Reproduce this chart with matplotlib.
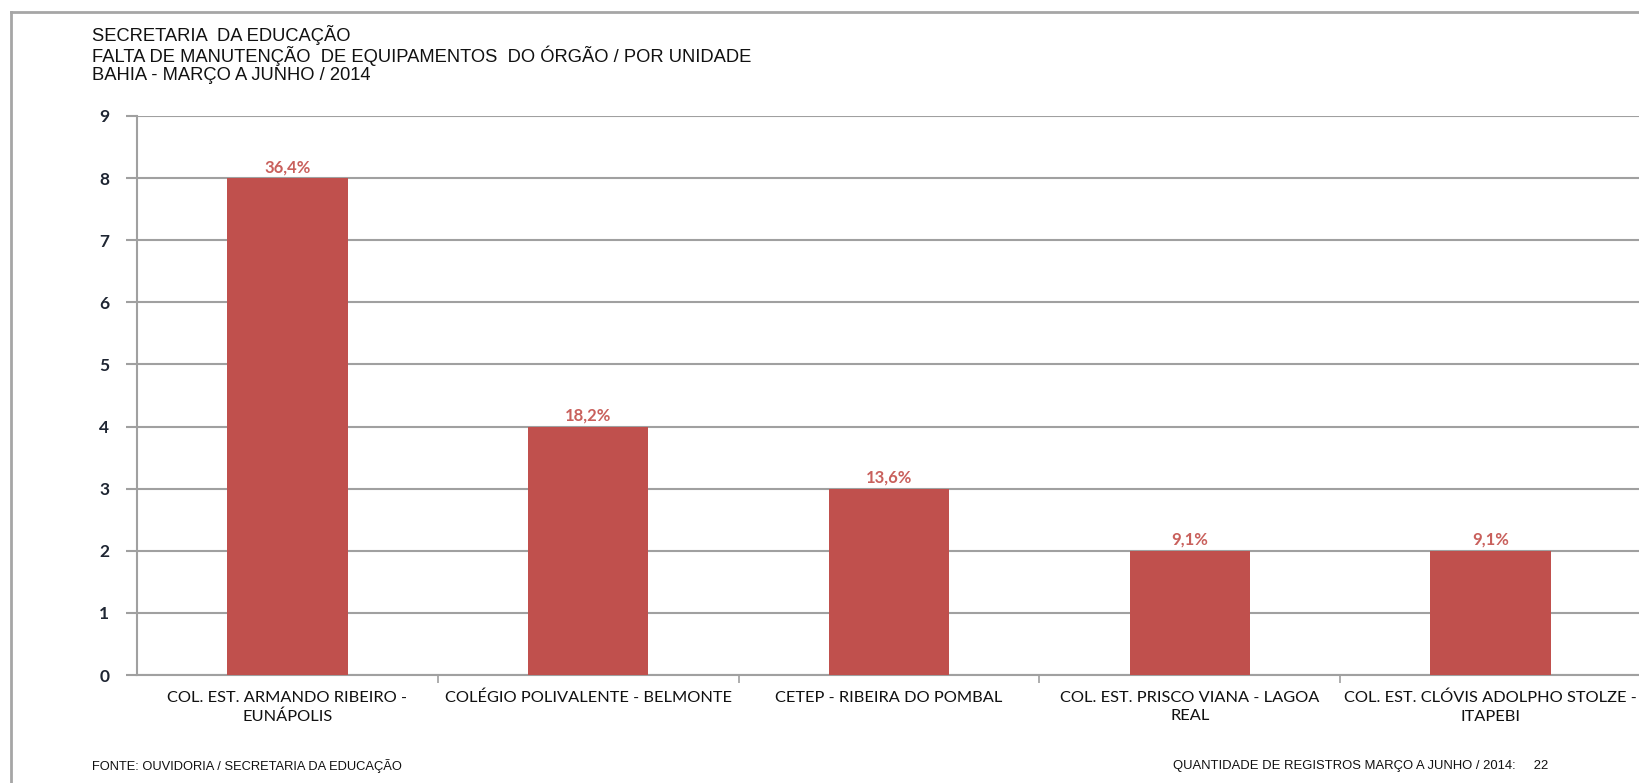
import matplotlib
matplotlib.use("Agg")
import matplotlib.pyplot as plt
from matplotlib.lines import Line2D

# dados do grafico
unidades = [
    "COL. EST. ARMANDO RIBEIRO -\nEUNÁPOLIS",
    "COLÉGIO POLIVALENTE - BELMONTE",
    "CETEP - RIBEIRA DO POMBAL",
    "COL. EST. PRISCO VIANA - LAGOA\nREAL",
    "COL. EST. CLÓVIS ADOLPHO STOLZE -\nITAPEBI",
]
quantidades = [8, 4, 3, 2, 2]
percentuais = ["36,4%", "18,2%", "13,6%", "9,1%", "9,1%"]
titulo = ["SECRETARIA  DA EDUCAÇÃO",
          "FALTA DE MANUTENÇÃO  DE EQUIPAMENTOS  DO ÓRGÃO / POR UNIDADE",
          "BAHIA - MARÇO A JUNHO / 2014"]
fonte = "FONTE: OUVIDORIA / SECRETARIA DA EDUCAÇÃO"
total = "QUANTIDADE DE REGISTROS MARÇO A JUNHO / 2014:     22"

W, H = 1639, 783
fig = plt.figure(figsize=(W / 100, H / 100), dpi=100)
fig.patch.set_facecolor("white")

# moldura cinza
fig.add_artist(Line2D([11 / W, 11 / W], [0, 1 - 12 / H], color="#a6a6a6", lw=2))
fig.add_artist(Line2D([11 / W, 1], [1 - 12 / H, 1 - 12 / H], color="#a6a6a6", lw=2))

ax = fig.add_axes([137 / W, (H - 675) / H, (1641 - 137) / W, (675 - 116) / H])
x = range(len(unidades))
bars = ax.bar(x, quantidades, width=0.4, color="#c0504d", zorder=3)

ax.set_xlim(-0.5, len(unidades) - 0.5)
ax.set_ylim(0, 9)
ax.set_yticks(range(10))
ax.grid(axis="y", color="#a0a0a0", lw=1.5, zorder=0)

for b, p in zip(bars, percentuais):
    ax.annotate(p, (b.get_x() + b.get_width() / 2, b.get_height()),
                xytext=(0, 2), textcoords="offset points", ha="center", va="bottom",
                fontsize=12, fontweight="bold", color="#c9605c", family="Lato")

for s in ["top", "right"]:
    ax.spines[s].set_visible(False)
for s in ["left", "bottom"]:
    ax.spines[s].set_color("#a0a0a0")
    ax.spines[s].set_linewidth(1.5)

ax.tick_params(axis="y", length=8, width=1.5, color="#a0a0a0", pad=12)
for lbl in ax.get_yticklabels():
    lbl.set_fontfamily("Lato")
    lbl.set_fontweight("bold")
    lbl.set_fontsize(12.5)
    lbl.set_color("#1f2633")

# rótulos das categorias centrados, marcas nos limites
ax.set_xticks([i + 0.5 for i in range(len(unidades) - 1)])
ax.set_xticklabels([])
ax.tick_params(axis="x", length=6, width=1.2, color="#a0a0a0")
for i, nome in enumerate(unidades):
    ax.text(i, -0.25, nome, ha="center", va="top", fontsize=11.8,
            family="Lato", color="#111111", linespacing=1.45)

# titulo em um bloco só, linhas apertadas como no original
fig.text(92 / W, 1 - 25 / H, "\n".join(titulo), ha="left", va="top",
         fontsize=13.2, family="Liberation Sans", color="#111111", linespacing=1.04)

fig.text(92 / W, 1 - 766 / H, fonte, ha="left", va="center",
         fontsize=9.3, family="Liberation Sans", color="#111111")
fig.text(1173 / W, 1 - 766 / H, total, ha="left", va="center",
         fontsize=9.4, family="Liberation Sans", color="#111111")

fig.savefig("out.png", dpi=100, facecolor="white")
